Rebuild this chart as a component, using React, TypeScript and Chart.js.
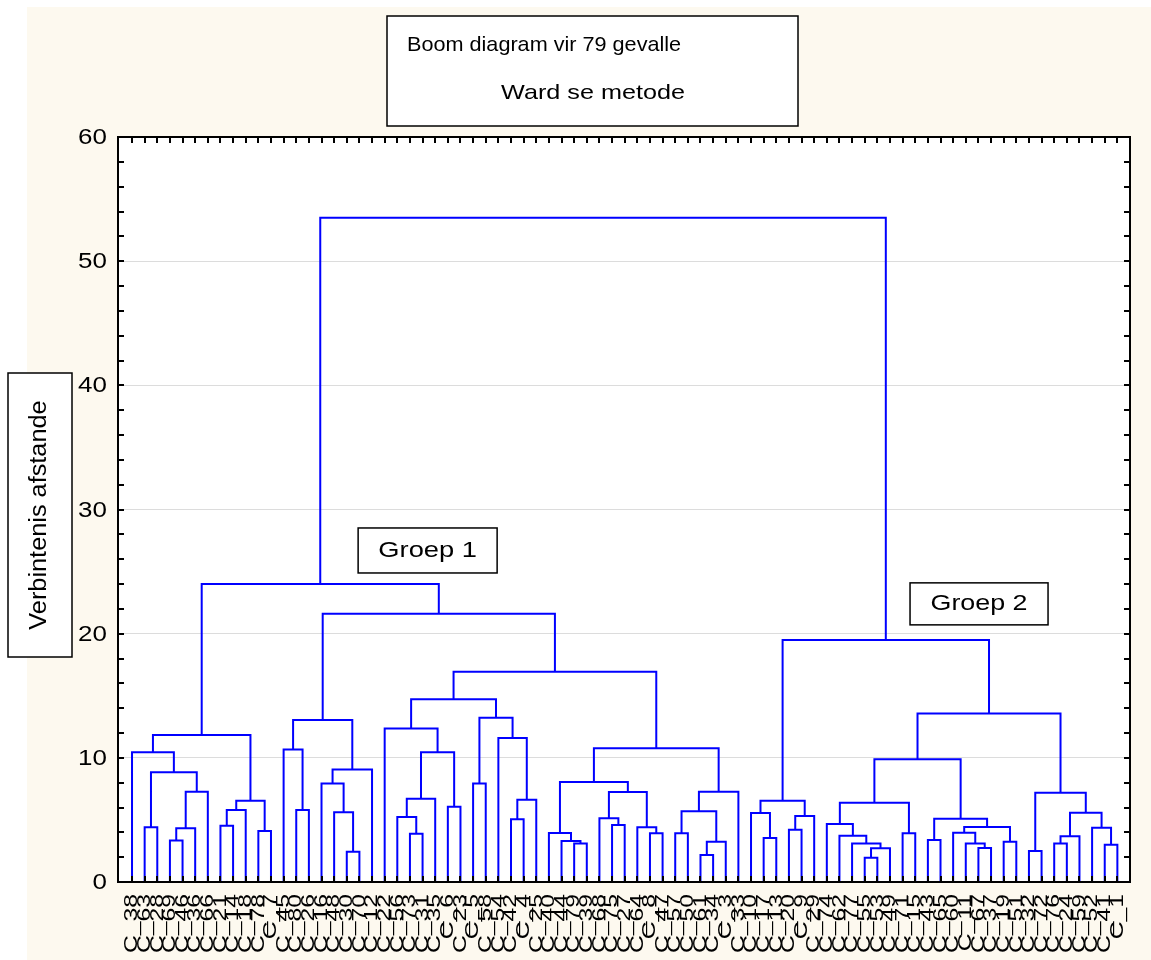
import React, { useEffect, useRef } from 'react';
import { Chart, registerables } from 'chart.js';

Chart.register(...registerables);

// Leaf (case) labels in dendrogram order, left to right
const leafLabels: string[] = [
  'C_38', 'C_63', 'C_28', 'C_69', 'C_46', 'C_36', 'C_66', 'C_21', 'C_14', 'C_18',
  'C_78', 'C_7', 'C_45', 'C_80', 'C_26', 'C_16', 'C_48', 'C_30', 'C_70', 'C_12',
  'C_22', 'C_56', 'C_73', 'C_31', 'C_35', 'C_6', 'C_23', 'C_5', 'C_58', 'C_54',
  'C_42', 'C_4', 'C_25', 'C_40', 'C_44', 'C_79', 'C_39', 'C_68', 'C_75', 'C_27',
  'C_64', 'C_8', 'C_47', 'C_57', 'C_50', 'C_61', 'C_34', 'C_3', 'C_33', 'C_10',
  'C_17', 'C_13', 'C_20', 'C_9', 'C_29', 'C_74', 'C_62', 'C_77', 'C_55', 'C_53',
  'C_49', 'C_71', 'C_15', 'C_43', 'C_65', 'C_60', 'C_11', 'C_67', 'C_37', 'C_19',
  'C_51', 'C_32', 'C_72', 'C_76', 'C_24', 'C_59', 'C_52', 'C_41', 'C_1',
];

// Linkage: [child A, child B, linkage distance]; ids < 79 are leaves, id 79+k is merge k
const linkage: [number, number, number][] = [
  [3, 4, 3.35], [79, 5, 4.32], [80, 6, 7.27], [1, 2, 4.4], [82, 81, 8.83],
  [0, 83, 10.44], [7, 8, 4.54], [85, 9, 5.8], [10, 11, 4.11], [86, 87, 6.55],
  [84, 88, 11.84],
  [13, 14, 5.8], [12, 90, 10.68], [17, 18, 2.44], [16, 92, 5.61], [15, 93, 7.94],
  [94, 19, 9.07], [91, 95, 13.04],
  [22, 23, 3.89], [21, 97, 5.23], [98, 24, 6.71], [25, 26, 6.07], [99, 100, 10.44],
  [20, 101, 12.37],
  [27, 28, 7.94], [30, 31, 5.05], [104, 32, 6.63], [29, 105, 11.59], [103, 106, 13.23],
  [102, 107, 14.71],
  [35, 36, 3.11], [34, 109, 3.3], [33, 110, 3.95], [38, 39, 4.59], [37, 112, 5.13],
  [41, 42, 3.92], [40, 114, 4.4], [113, 115, 7.25], [111, 116, 8.05], [43, 44, 3.92],
  [45, 46, 2.17], [119, 47, 3.25], [118, 120, 5.69], [121, 48, 7.27], [117, 122, 10.78],
  [108, 123, 16.93], [96, 124, 21.6], [89, 125, 24.0],
  [50, 51, 3.54], [49, 127, 5.56], [52, 53, 4.21], [129, 54, 5.31], [128, 130, 6.55],
  [58, 59, 1.96], [132, 60, 2.71], [57, 133, 3.11], [56, 134, 3.73], [55, 135, 4.67],
  [61, 62, 3.92], [136, 137, 6.39], [63, 64, 3.38], [67, 68, 2.74], [66, 140, 3.11],
  [65, 141, 3.97], [69, 70, 3.25], [142, 143, 4.43], [139, 144, 5.1], [138, 145, 9.88],
  [71, 72, 2.5], [73, 74, 3.11], [148, 75, 3.68], [77, 78, 3.01], [76, 150, 4.37],
  [149, 151, 5.58], [147, 152, 7.19], [146, 153, 13.58], [131, 154, 19.5],
  [126, 155, 53.5],
];

const yTickValues = [0, 10, 20, 30, 40, 50, 60];
const yMinorStep = 2;
const titleLines = ['Boom diagram vir 79 gevalle', 'Ward se metode'];
const yAxisTitle = 'Verbintenis afstande';
const groupLabels = ['Groep 1', 'Groep 2'];

const FONT = '"Liberation Sans", Arial, sans-serif';
const LINE_COLOR = '#0000ff';
const CREAM = '#fdf9ef';

function drawText(
  ctx: CanvasRenderingContext2D,
  text: string,
  x: number,
  y: number,
  size: number,
  sx: number,
  align: CanvasTextAlign,
  rotated = false,
) {
  ctx.save();
  ctx.font = `${size}px ${FONT}`;
  ctx.translate(x, y);
  if (rotated) ctx.rotate(-Math.PI / 2);
  ctx.scale(sx, 1);
  ctx.textAlign = align;
  ctx.textBaseline = 'middle';
  ctx.fillStyle = '#000';
  ctx.fillText(text, 0, 0);
  ctx.restore();
}

function drawBox(ctx: CanvasRenderingContext2D, x: number, y: number, w: number, h: number) {
  ctx.save();
  ctx.fillStyle = '#ffffff';
  ctx.fillRect(x, y, w, h);
  ctx.strokeStyle = '#000';
  ctx.lineWidth = 1.5;
  ctx.strokeRect(x, y, w, h);
  ctx.restore();
}

function buildDatasets() {
  const nodeX: number[] = leafLabels.map((_, i) => i);
  const nodeH: number[] = leafLabels.map(() => 0);
  return linkage.map(([a, b, h]) => {
    const xa = nodeX[a];
    const xb = nodeX[b];
    const ds = {
      data: [
        { x: xa, y: nodeH[a] },
        { x: xa, y: h },
        { x: xb, y: h },
        { x: xb, y: nodeH[b] },
      ],
      borderColor: LINE_COLOR,
      borderWidth: 2,
      pointRadius: 0,
      fill: false,
      tension: 0,
    };
    nodeX.push((xa + xb) / 2);
    nodeH.push(h);
    return ds;
  });
}

const backgroundPlugin = {
  id: 'bg',
  beforeDraw(chart: any) {
    const { ctx, chartArea } = chart;
    ctx.save();
    ctx.fillStyle = CREAM;
    ctx.fillRect(27, 7, chart.width - 27, chart.height - 7);
    ctx.fillStyle = '#ffffff';
    ctx.fillRect(chartArea.left, chartArea.top, chartArea.right - chartArea.left, chartArea.bottom - chartArea.top);
    ctx.restore();
  },
};

const decorPlugin = {
  id: 'decor',
  afterDraw(chart: any) {
    const { ctx, chartArea } = chart;
    const { left, right, top, bottom } = chartArea;
    const xs = chart.scales.x;
    const ys = chart.scales.y;

    // frame
    ctx.save();
    ctx.strokeStyle = '#000';
    ctx.lineWidth = 2;
    ctx.strokeRect(left, top, right - left, bottom - top);

    // inward ticks
    ctx.beginPath();
    leafLabels.forEach((_, i) => {
      const px = Math.round(xs.getPixelForValue(i));
      ctx.moveTo(px, top);
      ctx.lineTo(px, top + 6);
      ctx.moveTo(px, bottom);
      ctx.lineTo(px, bottom - 6);
    });
    const yMax = yTickValues[yTickValues.length - 1];
    for (let v = yTickValues[0]; v <= yMax; v += yMinorStep) {
      const py = Math.round(ys.getPixelForValue(v));
      ctx.moveTo(left, py);
      ctx.lineTo(left + 6, py);
      ctx.moveTo(right, py);
      ctx.lineTo(right - 6, py);
    }
    ctx.stroke();
    ctx.restore();

    // y tick labels
    yTickValues.forEach((v) => {
      drawText(ctx, String(v), left - 11, ys.getPixelForValue(v) + 1, 22, 1.18, 'right');
    });

    // leaf labels (rotated, reading upward)
    leafLabels.forEach((lab, i) => {
      drawText(ctx, lab, xs.getPixelForValue(i), bottom + 12, 19, 1.3, 'right', true);
    });

    // title box
    drawBox(ctx, 387, 16, 411, 110);
    drawText(ctx, titleLines[0], 407, 45, 21, 1.03, 'left');
    drawText(ctx, titleLines[1], 593, 93, 21, 1.2, 'center');

    // y-axis title box
    drawBox(ctx, 8, 373, 64, 284);
    drawText(ctx, yAxisTitle, 40, 515, 23, 1.1, 'center', true);

    // group boxes, anchored in data space
    const g1x = xs.getPixelForValue(23.4);
    const g1y = ys.getPixelForValue(26.7);
    drawBox(ctx, g1x - 69.5, g1y - 22.5, 139, 45);
    drawText(ctx, groupLabels[0], g1x, g1y, 22, 1.24, 'center');

    const g2x = xs.getPixelForValue(67.05);
    const g2y = ys.getPixelForValue(22.4);
    drawBox(ctx, g2x - 69, g2y - 21, 138, 42);
    drawText(ctx, groupLabels[1], g2x, g2y, 22, 1.22, 'center');
  },
};

export default function App() {
  const ref = useRef<HTMLCanvasElement | null>(null);

  useEffect(() => {
    if (!ref.current) return;
    const chart = new Chart(ref.current, {
      type: 'line',
      data: { datasets: buildDatasets() as any },
      options: {
        animation: false,
        responsive: false,
        devicePixelRatio: 1,
        layout: { padding: { left: 0, right: 21, top: 137, bottom: 0 } },
        plugins: {
          legend: { display: false },
          tooltip: { enabled: false },
        },
        elements: { point: { radius: 0 }, line: { borderWidth: 2 } },
        scales: {
          x: {
            type: 'linear',
            min: -1.11,
            max: 79.0,
            grid: { display: false, drawTicks: false },
            border: { display: false },
            ticks: { display: false },
            afterFit: (s: any) => {
              s.height = 78;
            },
          },
          y: {
            type: 'linear',
            min: 0,
            max: 60,
            afterBuildTicks: (s: any) => {
              s.ticks = yTickValues.map((v) => ({ value: v }));
            },
            ticks: { display: false },
            grid: { color: '#dcdcdc', lineWidth: 1, drawTicks: false },
            border: { display: false },
            afterFit: (s: any) => {
              s.width = 118;
            },
          },
        },
      },
      plugins: [backgroundPlugin, decorPlugin],
    });
    return () => chart.destroy();
  }, []);

  return (
    <canvas
      ref={ref}
      width={1151}
      height={960}
      style={{ position: 'absolute', left: 0, top: 0, display: 'block' }}
    />
  );
}
